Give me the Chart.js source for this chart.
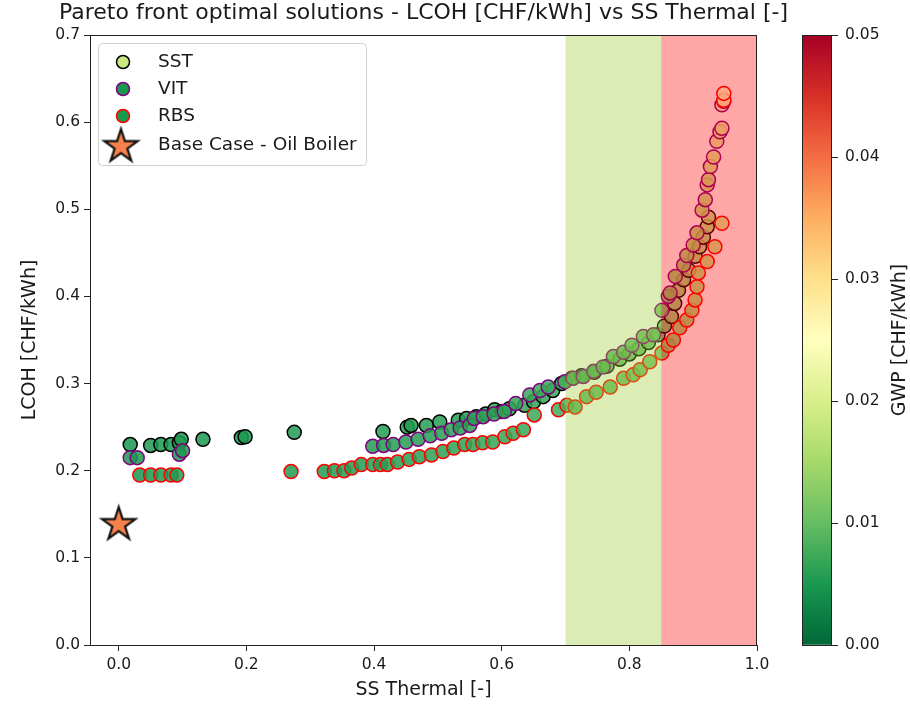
<!DOCTYPE html>
<html>
<head>
<meta charset="utf-8">
<script src="https://cdn.jsdelivr.net/npm/chart.js@4.4.0/dist/chart.umd.min.js"></script>
<style>
html, body { margin: 0; padding: 0; background: #fff; }
#wrap { position: relative; width: 910px; height: 707px; }
#main { position: absolute; left: 0; top: 0; }
#cbar { position: absolute; left: 780px; top: 0; }
</style>
</head>
<body>
<div id="wrap">
  <canvas id="main" width="910" height="707"></canvas>
  <canvas id="cbar" width="130" height="707"></canvas>
</div>
<script>
// SST solutions (black edge)
const sstX = [0.018,0.050,0.066,0.082,0.095,0.098,0.132,0.192,0.198,0.275,
  0.414,0.452,0.458,0.482,0.503,0.532,0.545,0.560,0.575,0.589,0.600,0.612,0.636,0.650,0.665,0.680,0.694,0.710,
  0.725,0.745,0.765,0.785,0.800,0.815,0.830,0.845,0.855,
  0.866,0.871,0.877,0.885,0.893,0.903,0.910,0.916,0.922,0.924];
const sstY = [0.230,0.229,0.230,0.230,0.232,0.236,0.236,0.238,0.239,0.244,
  0.245,0.250,0.252,0.252,0.256,0.258,0.260,0.262,0.265,0.270,0.268,0.271,0.275,0.279,0.285,0.292,0.300,0.306,
  0.309,0.313,0.320,0.328,0.334,0.340,0.347,0.356,0.366,
  0.377,0.392,0.407,0.419,0.430,0.446,0.457,0.468,0.480,0.491];
const sstGwp = [0.0050,0.0052,0.0051,0.0050,0.0052,0.0053,0.0051,0.0050,0.0052,0.0054,
  0.0055,0.0056,0.0055,0.0057,0.0058,0.0058,0.0060,0.0061,0.0060,0.0062,0.0063,0.0064,0.0065,0.0066,0.0068,0.0070,0.0072,0.0075,
  0.0080,0.0082,0.0085,0.0088,0.0090,0.0093,0.0096,0.0100,0.0105,
  0.0125,0.0130,0.0136,0.0140,0.0145,0.0150,0.0155,0.0160,0.0165,0.0170];

// VIT solutions (purple edge)
const vitX = [0.018,0.029,0.095,0.100,
  0.398,0.415,0.430,0.450,0.469,0.488,0.506,0.521,0.535,0.550,0.557,0.571,0.588,0.604,0.622,0.644,0.660,0.673,0.699,
  0.712,0.728,0.744,0.759,0.775,0.791,0.804,0.822,0.838,0.851,0.861,
  0.864,0.872,0.885,0.890,0.900,0.906,0.914,0.919,0.922,0.924,0.927,0.932,0.937,0.942,0.945,0.945,0.948];
const vitY = [0.215,0.215,0.219,0.223,
  0.228,0.229,0.230,0.233,0.236,0.240,0.243,0.247,0.249,0.252,0.260,0.262,0.265,0.268,0.277,0.287,0.292,0.296,0.302,
  0.306,0.308,0.314,0.319,0.331,0.336,0.344,0.354,0.356,0.384,0.400,
  0.404,0.423,0.436,0.447,0.459,0.473,0.499,0.511,0.528,0.534,0.549,0.560,0.578,0.589,0.593,0.620,0.624];
const vitGwp = [0.0050,0.0051,0.0052,0.0053,
  0.0054,0.0055,0.0055,0.0056,0.0057,0.0058,0.0059,0.0060,0.0060,0.0061,0.0062,0.0063,0.0064,0.0065,0.0067,0.0069,0.0071,0.0073,0.0076,
  0.0078,0.0080,0.0083,0.0085,0.0088,0.0091,0.0094,0.0097,0.0100,0.0106,0.0112,
  0.0125,0.0132,0.0138,0.0143,0.0150,0.0156,0.0165,0.0172,0.0180,0.0185,0.0192,0.0200,0.0208,0.0215,0.0220,0.0228,0.0235];

// RBS solutions (red edge)
const rbsX = [0.033,0.050,0.066,0.082,0.091,0.270,
  0.322,0.338,0.353,0.365,0.380,0.398,0.410,0.421,0.437,0.455,0.471,0.490,0.508,0.525,0.542,0.555,0.570,0.586,0.605,0.618,0.634,0.651,0.689,
  0.702,0.715,0.733,0.748,0.770,0.791,0.806,0.817,0.832,0.851,
  0.861,0.869,0.879,0.890,0.898,0.903,0.906,0.908,0.922,0.934,0.945,0.948,0.948];
const rbsY = [0.195,0.195,0.195,0.195,0.195,0.199,
  0.199,0.200,0.200,0.203,0.207,0.207,0.207,0.207,0.210,0.213,0.216,0.218,0.222,0.226,0.230,0.230,0.232,0.233,0.239,0.243,0.247,0.264,0.270,
  0.275,0.273,0.285,0.290,0.296,0.306,0.310,0.316,0.325,0.335,
  0.344,0.350,0.364,0.373,0.384,0.396,0.411,0.427,0.440,0.457,0.484,0.625,0.633];
const rbsGwp = [0.0050,0.0051,0.0052,0.0052,0.0053,0.0054,
  0.0054,0.0055,0.0055,0.0056,0.0056,0.0057,0.0057,0.0058,0.0058,0.0059,0.0060,0.0061,0.0062,0.0063,0.0064,0.0065,0.0066,0.0067,0.0068,0.0069,0.0070,0.0072,0.0075,
  0.0078,0.0080,0.0083,0.0086,0.0089,0.0092,0.0095,0.0098,0.0102,0.0108,
  0.0120,0.0125,0.0132,0.0138,0.0144,0.0150,0.0156,0.0162,0.0170,0.0180,0.0195,0.0245,0.0250];

// base case
const baseX = [0.0];
const baseY = [0.14];
const baseGwp = [0.0385];

const xTicks = [0.0, 0.2, 0.4, 0.6, 0.8, 1.0];
const yTicks = [0.0, 0.1, 0.2, 0.3, 0.4, 0.5, 0.6, 0.7];
const cbTicks = [0.00, 0.01, 0.02, 0.03, 0.04, 0.05];
const gwpMax = 0.05;

// SS thermal bands
const bandStart = [0.70, 0.85];
const bandEnd = [0.85, 1.00];
const bandColors = ['rgba(154,205,50,0.36)', 'rgba(255,0,0,0.35)'];

const TITLE = 'Pareto front optimal solutions - LCOH [CHF/kWh] vs SS Thermal [-]';
const FONT = 'DejaVu Sans';
const TXT = '#1a1a1a';
const TICK_PX = 15.5;
const LABEL_PX = 19;

// RdYlGn reversed
const cmapStops = ['#006837','#1a9850','#66bd63','#a6d96a','#d9ef8b','#ffffbf','#fee08b','#fdae61','#f46d43','#d73027','#a50026'];
function hexRgb(h) {
  return [parseInt(h.slice(1,3),16), parseInt(h.slice(3,5),16), parseInt(h.slice(5,7),16)];
}
function cmap(v, alpha) {
  let t = Math.max(0, Math.min(1, v / gwpMax)) * 10;
  let i = Math.min(9, Math.floor(t));
  let f = t - i;
  const a = hexRgb(cmapStops[i]), b = hexRgb(cmapStops[i+1]);
  const c = a.map((x, k) => Math.round(x + (b[k] - x) * f));
  return 'rgba(' + c[0] + ',' + c[1] + ',' + c[2] + ',' + alpha + ')';
}

function pts(xs, ys) {
  return xs.map((x, i) => ({ x: x, y: ys[i] }));
}

function makeStar(r, fill) {
  const s = Math.ceil(2 * r + 6);
  const c = document.createElement('canvas');
  c.width = s; c.height = s;
  const g = c.getContext('2d');
  g.beginPath();
  for (let k = 0; k < 10; k++) {
    const ang = -Math.PI / 2 + k * Math.PI / 5;
    const rr = k % 2 === 0 ? r : r * 0.382;
    g.lineTo(s / 2 + rr * Math.cos(ang), s / 2 + 1.5 + rr * Math.sin(ang));
  }
  g.closePath();
  g.fillStyle = fill;
  g.fill();
  g.lineWidth = 2.2;
  g.lineJoin = 'miter';
  g.strokeStyle = '#111';
  g.stroke();
  return c;
}

const starImg = makeStar(17.5, cmap(baseGwp[0], 1));
const ALPHA = 0.85;

function series(label, xs, ys, gwp, edge, order) {
  return {
    label: label,
    data: pts(xs, ys),
    showLine: false,
    order: order,
    pointRadius: 7,
    pointBorderWidth: 1.5,
    pointBackgroundColor: gwp.map(g => cmap(g, ALPHA)),
    pointBorderColor: edge
  };
}

const bandsPlugin = {
  id: 'bands',
  afterDatasetsDraw(chart) {
    const ctx = chart.ctx, a = chart.chartArea, xs = chart.scales.x;
    ctx.save();
    bandStart.forEach((s, i) => {
      const l = xs.getPixelForValue(s), r = xs.getPixelForValue(bandEnd[i]);
      ctx.fillStyle = bandColors[i];
      ctx.fillRect(l, a.top, r - l, a.bottom - a.top);
    });
    ctx.restore();
  }
};

// axes frame + title centred over the plot area
const framePlugin = {
  id: 'frame',
  afterDraw(chart) {
    const ctx = chart.ctx, a = chart.chartArea;
    ctx.save();
    ctx.strokeStyle = '#222';
    ctx.lineWidth = 1;
    ctx.strokeRect(Math.round(a.left) + 0.5, Math.round(a.top) + 0.5,
      Math.round(a.right - a.left) - 1, Math.round(a.bottom - a.top));
    ctx.font = '22px "' + FONT + '"';
    ctx.fillStyle = TXT;
    ctx.textAlign = 'center';
    ctx.textBaseline = 'middle';
    ctx.fillText(TITLE, (a.left + a.right) / 2, 13);
    ctx.restore();
  }
};

// legend drawn inside the axes, top left
const boxLegend = {
  id: 'boxLegend',
  afterDraw(chart) {
    const ctx = chart.ctx, a = chart.chartArea;
    const x0 = a.left + 8, y0 = a.top + 8, w = 268, h = 122;
    ctx.save();
    ctx.beginPath();
    ctx.roundRect(x0 + 0.5, y0 + 0.5, w, h, 4);
    ctx.fillStyle = 'rgba(255,255,255,0.8)';
    ctx.fill();
    ctx.strokeStyle = '#d0d0d0';
    ctx.lineWidth = 1;
    ctx.stroke();
    const rows = [27, 54, 81, 110];
    const fills = [cmap(0.0185, 1), cmap(0.005, 1), cmap(0.005, 1)];
    const edges = ['#000', 'purple', 'red'];
    const labels = chart.data.datasets.map(d => d.label);
    ctx.font = '18.5px "' + FONT + '"';
    ctx.textBaseline = 'middle';
    labels.forEach((lab, i) => {
      const cy = a.top + rows[i];
      if (i < 3) {
        ctx.beginPath();
        ctx.arc(a.left + 33, cy, 6.5, 0, Math.PI * 2);
        ctx.fillStyle = fills[i];
        ctx.fill();
        ctx.lineWidth = 1.5;
        ctx.strokeStyle = edges[i];
        ctx.stroke();
      } else {
        ctx.drawImage(starImg, a.left + 31 - starImg.width / 2, cy - starImg.height / 2);
      }
      ctx.fillStyle = TXT;
      ctx.fillText(lab, a.left + 68, cy);
    });
    ctx.restore();
  }
};

new Chart(document.getElementById('main'), {
  type: 'scatter',
  data: {
    datasets: [
      series('SST', sstX, sstY, sstGwp, '#000', 4),
      series('VIT', vitX, vitY, vitGwp, 'purple', 3),
      series('RBS', rbsX, rbsY, rbsGwp, 'red', 2),
      {
        label: 'Base Case - Oil Boiler',
        data: pts(baseX, baseY),
        order: 1,
        pointStyle: starImg,
        pointRadius: 18
      }
    ]
  },
  options: {
    responsive: false,
    animation: false,
    devicePixelRatio: 1,
    events: [],
    layout: { padding: { left: 0, right: 153, top: 35, bottom: 0 } },
    plugins: {
      legend: { display: false },
      tooltip: { enabled: false },
      title: { display: false }
    },
    scales: {
      x: {
        type: 'linear',
        min: -0.045,
        max: 1.0,
        afterBuildTicks: s => { s.ticks = xTicks.map(v => ({ value: v })); },
        afterFit: s => { s.height = 62; },
        grid: { drawOnChartArea: false, drawTicks: true, tickLength: 6, tickColor: '#222' },
        border: { display: false },
        ticks: { color: TXT, padding: 5, autoSkip: false, maxRotation: 0,
          font: { family: FONT, size: TICK_PX }, callback: v => v.toFixed(1) },
        title: { display: true, text: 'SS Thermal [-]', color: TXT,
          font: { family: FONT, size: LABEL_PX }, padding: { top: 0, bottom: 6 } }
      },
      y: {
        type: 'linear',
        min: 0,
        max: 0.7,
        afterBuildTicks: s => { s.ticks = yTicks.map(v => ({ value: v })); },
        afterFit: s => { s.width = 90; },
        grid: { drawOnChartArea: false, drawTicks: true, tickLength: 6, tickColor: '#222' },
        border: { display: false },
        ticks: { color: TXT, padding: 4, autoSkip: false,
          font: { family: FONT, size: TICK_PX }, callback: v => v.toFixed(1) },
        title: { display: true, text: 'LCOH [CHF/kWh]', color: TXT,
          font: { family: FONT, size: LABEL_PX }, padding: { top: 19, bottom: 0 } }
      }
    }
  },
  plugins: [bandsPlugin, framePlugin, boxLegend]
});

// colour bar
const cbLabel = {
  id: 'cbLabel',
  afterDraw(chart) {
    const ctx = chart.ctx, a = chart.chartArea;
    ctx.save();
    ctx.strokeStyle = '#222';
    ctx.lineWidth = 1;
    ctx.strokeRect(Math.round(a.left) + 0.5, Math.round(a.top) + 0.5,
      Math.round(a.right - a.left) - 1, Math.round(a.bottom - a.top));
    ctx.translate(120, (a.top + a.bottom) / 2);
    ctx.rotate(-Math.PI / 2);
    ctx.font = LABEL_PX + 'px "' + FONT + '"';
    ctx.fillStyle = TXT;
    ctx.textAlign = 'center';
    ctx.textBaseline = 'middle';
    ctx.fillText('GWP [CHF/kWh]', 0, 0);
    ctx.restore();
  }
};

new Chart(document.getElementById('cbar'), {
  type: 'bar',
  data: {
    labels: [''],
    datasets: [{
      data: [[cbTicks[0], gwpMax]],
      categoryPercentage: 1,
      barPercentage: 1,
      borderWidth: 0,
      backgroundColor: (c) => {
        const a = c.chart.chartArea;
        if (!a) return '#888';
        const g = c.chart.ctx.createLinearGradient(0, a.bottom, 0, a.top);
        cmapStops.forEach((s, i) => g.addColorStop(i / 10, s));
        return g;
      }
    }]
  },
  options: {
    responsive: false,
    animation: false,
    devicePixelRatio: 1,
    events: [],
    layout: { padding: { left: 22, right: 0, top: 35, bottom: 62 } },
    plugins: { legend: { display: false }, tooltip: { enabled: false } },
    scales: {
      x: { display: false },
      y: {
        position: 'right',
        min: 0,
        max: gwpMax,
        afterBuildTicks: s => { s.ticks = cbTicks.map(v => ({ value: v })); },
        afterFit: s => { s.width = 78; },
        grid: { drawOnChartArea: false, drawTicks: true, tickLength: 6, tickColor: '#222' },
        border: { display: false },
        ticks: { color: TXT, padding: 7, autoSkip: false,
          font: { family: FONT, size: TICK_PX }, callback: v => v.toFixed(2) }
      }
    }
  },
  plugins: [cbLabel]
});
</script>
</body>
</html>
